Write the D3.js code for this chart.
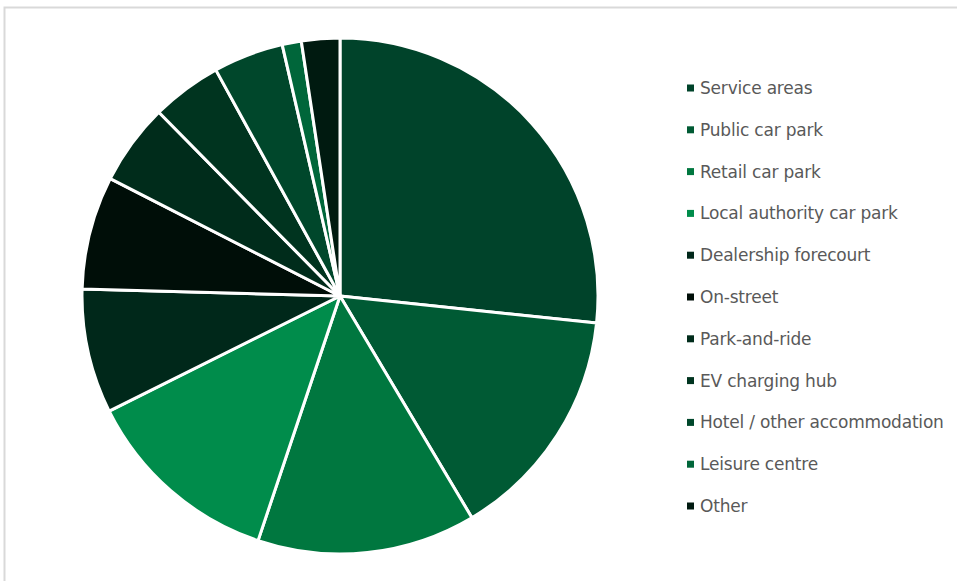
<!DOCTYPE html>
<html>
<head>
<meta charset="utf-8">
<script src="https://cdn.jsdelivr.net/npm/d3@7"></script>
<style>
  html, body { margin: 0; padding: 0; background: #fff; }
  svg { display: block; }
</style>
</head>
<body>
<svg id="chart" width="957" height="581"></svg>
<script>
// values (share of sites, %)
const categories = [
  "Service areas", "Public car park", "Retail car park", "Local authority car park",
  "Dealership forecourt", "On-street", "Park-and-ride", "EV charging hub",
  "Hotel / other accommodation", "Leisure centre", "Other"
];
const values = [26.7, 14.8, 13.7, 12.5, 7.8, 7.1, 5.1, 4.4, 4.4, 1.2, 2.4];
const colours = [
  "#00432a", "#005a34", "#00773f", "#008c4b", "#00281a", "#000e08",
  "#002c1b", "#00341f", "#00472b", "#00663a", "#001a10"
];

const svg = d3.select("#chart"),
  width = +svg.attr("width"),
  height = +svg.attr("height");

// light frame of the chart area
svg.append("path")
  .attr("d", `M4.5,${height} V7.5 H${width}`)
  .attr("fill", "none")
  .attr("stroke", "#d9d9d9")
  .attr("stroke-width", 2);

const cx = 340, cy = 296, r = 258;

const data = categories.map((c, i) => ({ name: c, value: values[i], colour: colours[i] }));

const pie = d3.pie().sort(null).value(d => d.value);
const arc = d3.arc().innerRadius(0).outerRadius(r);

svg.append("g")
  .attr("transform", `translate(${cx},${cy})`)
  .selectAll("path")
  .data(pie(data))
  .join("path")
  .attr("d", arc)
  .attr("fill", d => d.data.colour)
  .attr("stroke", "#fff")
  .attr("stroke-width", 3)
  .attr("stroke-linejoin", "round");

// legend
const rowY = d3.scalePoint().domain(categories).range([88, 506]);

const legend = svg.append("g")
  .selectAll("g")
  .data(data)
  .join("g")
  .attr("transform", d => `translate(0,${rowY(d.name)})`);

legend.append("rect")
  .attr("x", 687)
  .attr("y", -3.5)
  .attr("width", 7)
  .attr("height", 7)
  .attr("fill", d => d.colour);

legend.append("text")
  .attr("x", 700)
  .attr("dy", "0.35em")
  .attr("font-family", "Tahoma, 'DejaVu Sans', sans-serif")
  .attr("font-size", 17)
  .attr("letter-spacing", -0.2)
  .attr("fill", "#595959")
  .text(d => d.name);
</script>
</body>
</html>
